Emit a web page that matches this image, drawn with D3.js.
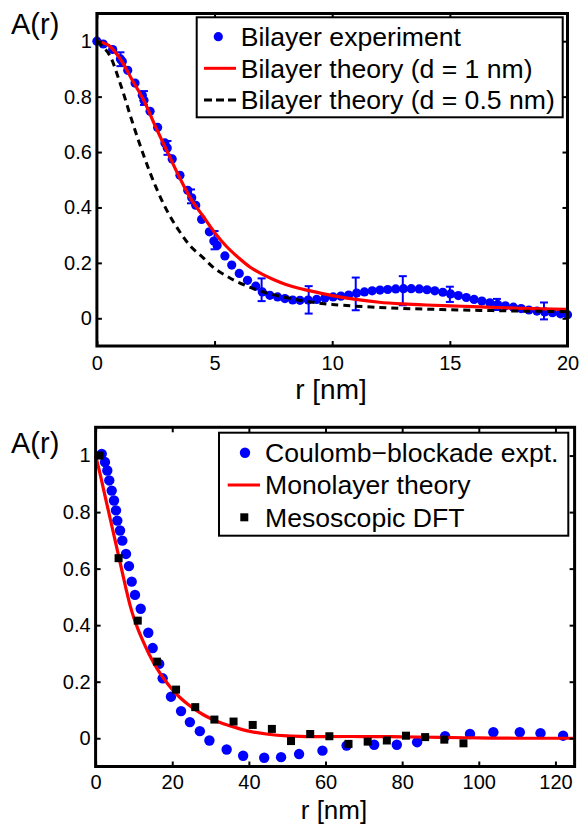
<!DOCTYPE html>
<html><head><meta charset="utf-8">
<script src="https://cdn.jsdelivr.net/npm/d3@7"></script>
<style>
body{margin:0;background:#fff}
svg{display:block}
text{font-family:"Liberation Sans",Arial,Helvetica,sans-serif;fill:#000}
</style>
</head><body>
<svg id="c" width="580" height="825"></svg>
<script>
// ---------- Top panel data (bilayer) ----------
const bilayerR = [0,0.27,0.67,1.0,1.08,1.31,1.62,1.93,2.0,2.26,2.58,2.89,2.99,3.2,3.53,3.86,4.03,4.2,4.45,4.78,4.97,5.11,5.44,5.73,6.05,6.4,6.75,7.03,7.35,7.68,7.99,8.32,8.63,8.98,9.34,9.69,10.04,10.37,10.7,11.04,11.37,11.7,12.03,12.36,12.7,13.03,13.36,13.7,14.03,14.36,14.7,15.03,15.36,15.7,16.03,16.36,16.7,17.03,17.36,17.7,18.03,18.36,18.7,19.03,19.36,19.7,20.0];
const bilayerA = [1.0,0.99,0.97,0.936,0.927,0.895,0.849,0.805,0.787,0.747,0.689,0.633,0.615,0.575,0.516,0.462,0.435,0.408,0.357,0.312,0.279,0.263,0.225,0.192,0.162,0.137,0.116,0.095,0.083,0.077,0.071,0.066,0.065,0.066,0.068,0.073,0.077,0.08,0.084,0.091,0.095,0.099,0.102,0.104,0.106,0.107,0.107,0.106,0.103,0.099,0.094,0.088,0.082,0.075,0.068,0.062,0.056,0.05,0.045,0.04,0.035,0.03,0.026,0.023,0.02,0.016,0.013];
const errR  = [1,2,3,4,5,7,9,11,13,15,17,19];
const errHi = [0.96,0.82,0.64,0.465,0.315,0.144,0.116,0.147,0.152,0.114,0.07,0.057];
const errLo = [0.91,0.77,0.59,0.415,0.249,0.062,0.017,0.029,0.047,0.059,0.03,-0.004];
const theory1R = [0,0.5,1,1.5,2,2.5,3,3.5,4,4.5,5,5.5,6,6.5,7,7.5,8,8.5,9,10,11,12,13,14,15,16,17,18,19,20];
const theory1A = [1.0,0.985,0.935,0.86,0.785,0.69,0.6,0.51,0.43,0.37,0.31,0.26,0.22,0.185,0.16,0.14,0.123,0.11,0.1,0.082,0.068,0.058,0.052,0.048,0.045,0.042,0.039,0.036,0.034,0.032];
const theory05R = [0,0.5,1,1.5,2,2.5,3,3.5,4,4.5,5,5.5,6,7,8,9,10,12,14,16,18,20];
const theory05A = [1.0,0.955,0.845,0.71,0.585,0.475,0.385,0.315,0.258,0.22,0.18,0.153,0.13,0.097,0.076,0.06,0.05,0.039,0.033,0.029,0.026,0.024];
const topXTicks = [0,5,10,15,20];
const topYTicks = [0,0.2,0.4,0.6,0.8,1];
const topLegend = ["Bilayer experiment","Bilayer theory (d = 1 nm)","Bilayer theory (d = 0.5 nm)"];

// ---------- Bottom panel data (monolayer) ----------
const coulombR = [1.6,2.45,3.05,3.57,4.2,4.8,5.32,5.66,6.37,6.97,7.93,8.71,9.42,10.28,11.77,13.75,14.9,16.6,17.5,19.67,22.3,24.6,27.2,29.7,34.2,38.5,44.0,48.4,53.1,59.2,65.5,72.7,78.6,83.9,91.2,97.7,103.8,110.7,116.1,122.0];
const coulombA = [1.006,0.977,0.947,0.912,0.876,0.841,0.806,0.770,0.735,0.699,0.652,0.609,0.554,0.507,0.458,0.373,0.319,0.263,0.212,0.147,0.096,0.057,0.025,-0.008,-0.040,-0.062,-0.069,-0.067,-0.056,-0.044,-0.026,-0.023,-0.023,-0.014,0.007,0.015,0.021,0.021,0.018,0.009];
const monoR = [0,1,2,3,4,5,6,7,8,9,10,11,12,13,14,16,18,20,22,24,26,28,30,33,36,40,45,50,55,60,70,80,90,100,110,125];
const monoA = [1.0,0.945,0.885,0.825,0.765,0.705,0.645,0.585,0.525,0.47,0.425,0.388,0.355,0.325,0.296,0.247,0.207,0.173,0.144,0.121,0.101,0.084,0.07,0.053,0.04,0.025,0.014,0.008,0.006,0.006,0.006,0.005,0.003,0.001,0.0,0.0];
const dftR = [1,6,11,16,21,26,31,36,41,46,51,56,61,66,71,76,81,86,91,96];
const dftA = [1.0,0.637,0.416,0.271,0.172,0.110,0.066,0.059,0.047,0.033,-0.010,0.015,0.007,-0.020,-0.012,-0.008,0.009,0.004,-0.005,-0.018];
const botXTicks = [0,20,40,60,80,100,120];
const botYTicks = [0,0.2,0.4,0.6,0.8,1];
const botLegend = ["Coulomb\u2212blockade expt.","Monolayer theory","Mesoscopic DFT"];

const svg = d3.select("#c");
const BLUE = "#0000ff", RED = "#ff0000";

function frame(g, x, y, xt, yt, xPad) {
  const [x0, x1] = x.range(), [y0, y1] = y.range();
  g.append("g").attr("transform", `translate(0,${y0})`)
    .call(d3.axisBottom(x).tickValues(xt).tickFormat(d3.format("d")).tickSizeInner(-5).tickSizeOuter(0).tickPadding(xPad))
    .call(a => { a.select(".domain").remove(); a.selectAll("line").attr("stroke-width", 2); a.selectAll("text").attr("font-size", 20).attr("font-family", null); });
  g.append("g").attr("transform", `translate(${x0},0)`)
    .call(d3.axisLeft(y).tickValues(yt).tickFormat(d => d === 0 ? "0" : d === 1 ? "1" : d3.format(".1f")(d)).tickSizeInner(-5).tickSizeOuter(0).tickPadding(5))
    .call(a => { a.select(".domain").remove(); a.selectAll("line").attr("stroke-width", 2); a.selectAll("text").attr("font-size", 20).attr("font-family", null); });
  g.append("g").attr("transform", `translate(0,${y1})`)
    .call(d3.axisTop(x).tickValues(xt).tickFormat("").tickSizeInner(-5).tickSizeOuter(0))
    .call(a => { a.select(".domain").remove(); a.selectAll("line").attr("stroke-width", 2); });
  g.append("g").attr("transform", `translate(${x1},0)`)
    .call(d3.axisRight(y).tickValues(yt).tickFormat("").tickSizeInner(-5).tickSizeOuter(0))
    .call(a => { a.select(".domain").remove(); a.selectAll("line").attr("stroke-width", 2); });
  g.append("rect").attr("x", x0).attr("y", y1).attr("width", x1 - x0).attr("height", y0 - y1)
    .attr("fill", "none").attr("stroke", "#000").attr("stroke-width", 3);
}

function labels(g, yLabelX, yLabelY, xLabelX, xLabelY, xSize) {
  g.append("text").attr("x", yLabelX).attr("y", yLabelY).attr("font-size", 29).text("A(r)");
  g.append("text").attr("x", xLabelX).attr("y", xLabelY).attr("font-size", xSize).attr("text-anchor", "middle").text("r [nm]");
}

// ---------- Top panel ----------
{
  const x = d3.scaleLinear().domain([0, 20]).range([96.9, 567.5]);
  const y = d3.scaleLinear().domain([-0.1, 1.1]).range([346, 13.5]);
  const g = svg.append("g");
  const pts = bilayerR.map((r, i) => [r, bilayerA[i]]);
  g.append("g").selectAll("circle").data(pts).join("circle")
    .attr("cx", d => x(d[0])).attr("cy", d => y(d[1])).attr("r", 4.6).attr("fill", BLUE);
  const eb = g.append("g").attr("stroke", BLUE).attr("stroke-width", 2);
  errR.forEach((r, i) => {
    const cx = x(r);
    eb.append("line").attr("x1", cx).attr("x2", cx).attr("y1", y(errHi[i])).attr("y2", y(errLo[i]));
    eb.append("line").attr("x1", cx - 4).attr("x2", cx + 4).attr("y1", y(errHi[i])).attr("y2", y(errHi[i]));
    eb.append("line").attr("x1", cx - 4).attr("x2", cx + 4).attr("y1", y(errLo[i])).attr("y2", y(errLo[i]));
  });
  const line = d3.line().x(d => x(d[0])).y(d => y(d[1])).curve(d3.curveCatmullRom);
  g.append("path").attr("d", line(theory1R.map((r, i) => [r, theory1A[i]])))
    .attr("fill", "none").attr("stroke", RED).attr("stroke-width", 3.2);
  g.append("path").attr("d", line(theory05R.map((r, i) => [r, theory05A[i]])))
    .attr("fill", "none").attr("stroke", "#000").attr("stroke-width", 3).attr("stroke-dasharray", "7,5");
  frame(g, x, y, topXTicks, topYTicks, 10);
  labels(g, 11, 34, 331, 399, 28);
  const L = g.append("g");
  L.append("rect").attr("x", 196.7).attr("y", 17.3).attr("width", 366).attr("height", 100)
    .attr("fill", "#fff").attr("stroke", "#000").attr("stroke-width", 2);
  const rows = [36.7, 68.3, 100];
  L.append("circle").attr("cx", 218.3).attr("cy", rows[0]).attr("r", 4.6).attr("fill", BLUE);
  L.append("line").attr("x1", 204).attr("x2", 236).attr("y1", rows[1]).attr("y2", rows[1]).attr("stroke", RED).attr("stroke-width", 3);
  L.append("line").attr("x1", 204).attr("x2", 236).attr("y1", rows[2]).attr("y2", rows[2]).attr("stroke", "#000").attr("stroke-width", 3).attr("stroke-dasharray", "8,4");
  topLegend.forEach((t, i) => L.append("text").attr("x", 240.7).attr("y", rows[i]).attr("dy", "0.35em").attr("font-size", 26.6).text(t));
}

// ---------- Bottom panel ----------
{
  const x = d3.scaleLinear().domain([0, 125]).range([95.6, 574.6]);
  const y = d3.scaleLinear().domain([-0.1, 1.1]).range([766.5, 427.3]);
  const g = svg.append("g");
  g.append("g").selectAll("circle").data(coulombR.map((r, i) => [r, coulombA[i]])).join("circle")
    .attr("cx", d => x(d[0])).attr("cy", d => y(d[1])).attr("r", 5.2).attr("fill", BLUE);
  const line = d3.line().x(d => x(d[0])).y(d => y(d[1])).curve(d3.curveCatmullRom);
  g.append("path").attr("d", line(monoR.map((r, i) => [r, monoA[i]])))
    .attr("fill", "none").attr("stroke", RED).attr("stroke-width", 3.2);
  g.append("g").selectAll("rect").data(dftR.map((r, i) => [r, dftA[i]])).join("rect")
    .attr("x", d => x(d[0]) - 4).attr("y", d => y(d[1]) - 4).attr("width", 8).attr("height", 8).attr("fill", "#000");
  frame(g, x, y, botXTicks, botYTicks, 8);
  labels(g, 11, 453, 334, 819, 26);
  const L = g.append("g");
  L.append("rect").attr("x", 219).attr("y", 432.7).attr("width", 349.3).attr("height", 103)
    .attr("fill", "#fff").attr("stroke", "#000").attr("stroke-width", 2);
  const rows = [452.7, 485, 517.3];
  L.append("circle").attr("cx", 245).attr("cy", rows[0]).attr("r", 5.2).attr("fill", BLUE);
  L.append("line").attr("x1", 227.7).attr("x2", 260).attr("y1", rows[1]).attr("y2", rows[1]).attr("stroke", RED).attr("stroke-width", 3);
  L.append("rect").attr("x", 240.3).attr("y", rows[2] - 4).attr("width", 8).attr("height", 8).attr("fill", "#000");
  botLegend.forEach((t, i) => L.append("text").attr("x", 265).attr("y", rows[i]).attr("dy", "0.35em").attr("font-size", 26.6).text(t));
}
</script>
</body></html>
